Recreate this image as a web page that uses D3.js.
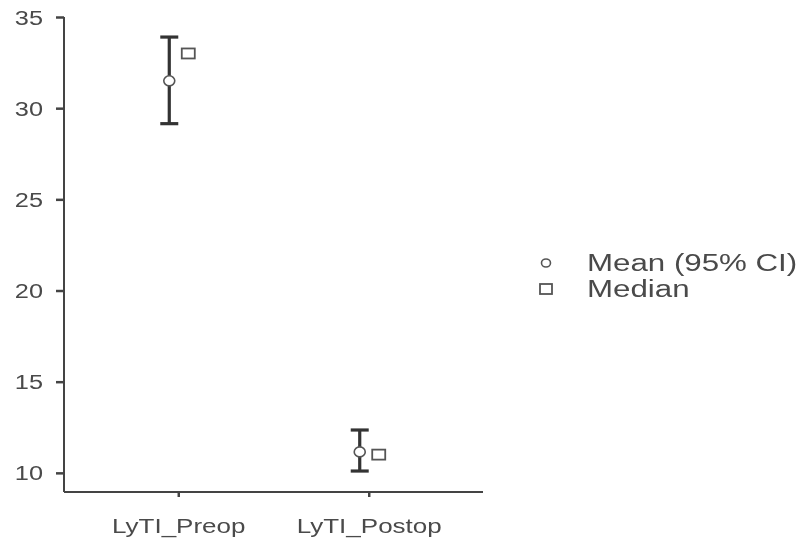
<!DOCTYPE html>
<html><head><meta charset="utf-8">
<script src="https://cdn.jsdelivr.net/npm/d3@7"></script>
<style>body{margin:0;background:#fff}svg{display:block;filter:blur(0.4px)}text{font-family:"Liberation Sans",Arial,sans-serif;fill:#4a4a4a}</style>
</head><body><svg id="c" width="804" height="544"></svg>
<script>
const categories = ["LyTI_Preop", "LyTI_Postop"];
const means = [31.5, 11.15];
const ciLow = [29.15, 10.1];
const ciHigh = [33.9, 12.35];
const medians = [33.0, 11.0];
const yTicks = [10, 15, 20, 25, 30, 35];
const legendLabels = ["Mean (95% CI)", "Median"];

const svg = d3.select("#c");
const SX = 1.3;
const y = d3.scaleLinear().domain([8.95, 35]).range([492, 17]);
const x = d3.scalePoint().domain(categories).range([64, 483]).padding(0.6);
const axisColor = "#444";

// Y axis
const gy = svg.append("g").attr("transform", "translate(64,0)")
  .call(d3.axisLeft(y).tickValues(yTicks).tickSize(8).tickSizeOuter(0).tickFormat(d3.format("d")));
gy.select(".domain").attr("stroke", axisColor).attr("stroke-width", 2).attr("d", `M0,${y(35)}V${y.range()[0]}`);
gy.selectAll(".tick line").attr("stroke", axisColor).attr("stroke-width", 2.5);
gy.selectAll(".tick text").each(function(d){
  d3.select(this).attr("x", null).attr("dx", null).attr("dy", null).attr("text-anchor", "end")
    .attr("font-size", 19.5).attr("transform", `translate(-21,0) scale(${SX},1) translate(0,7)`);
});

// X axis
const gx = svg.append("g").attr("transform", `translate(0,${y.range()[0]})`)
  .call(d3.axisBottom(x).tickSize(5).tickSizeOuter(0));
gx.select(".domain").attr("stroke", axisColor).attr("stroke-width", 2).attr("d", `M${x.range()[0]},0H${x.range()[1]}`);
gx.selectAll(".tick line").attr("stroke", axisColor).attr("stroke-width", 2.5);
gx.selectAll(".tick text").attr("y", null).attr("dy", null).attr("font-size", 20).attr("text-anchor", "middle")
  .attr("transform", `translate(0,41) scale(${SX},1)`);

// Error bars
const off = 9, cap = 9;
const g = svg.append("g");
categories.forEach((c, i) => {
  const cx = x(c) - off;
  g.append("line").attr("x1", cx).attr("x2", cx).attr("y1", y(ciLow[i])).attr("y2", y(ciHigh[i]))
    .attr("stroke", "#333").attr("stroke-width", 3.2);
  [ciLow[i], ciHigh[i]].forEach(v => g.append("line").attr("x1", cx - cap).attr("x2", cx + cap)
    .attr("y1", y(v)).attr("y2", y(v)).attr("stroke", "#333").attr("stroke-width", 3.2));
  g.append("ellipse").attr("cx", cx).attr("cy", y(means[i])).attr("rx", 5.5).attr("ry", 5)
    .attr("fill", "#fff").attr("stroke", "#555").attr("stroke-width", 1.6);
  const mx = x(c) + 10;
  g.append("rect").attr("x", mx - 6.5).attr("y", y(medians[i]) - 5).attr("width", 13).attr("height", 10)
    .attr("fill", "#fff").attr("stroke", "#555").attr("stroke-width", 1.8);
});

// Legend
const lg = svg.append("g");
const ly = [263, 289];
lg.append("ellipse").attr("cx", 546).attr("cy", ly[0]).attr("rx", 4.5).attr("ry", 4)
  .attr("fill", "#fff").attr("stroke", "#555").attr("stroke-width", 1.6);
lg.append("rect").attr("x", 540).attr("y", ly[1] - 5).attr("width", 12).attr("height", 10)
  .attr("fill", "#fff").attr("stroke", "#555").attr("stroke-width", 1.8);
legendLabels.forEach((t, i) => {
  lg.append("text").text(t).attr("font-size", 23)
    .attr("transform", `translate(587,${ly[i] + 8}) scale(1.36,1)`);
});
</script></body></html>
